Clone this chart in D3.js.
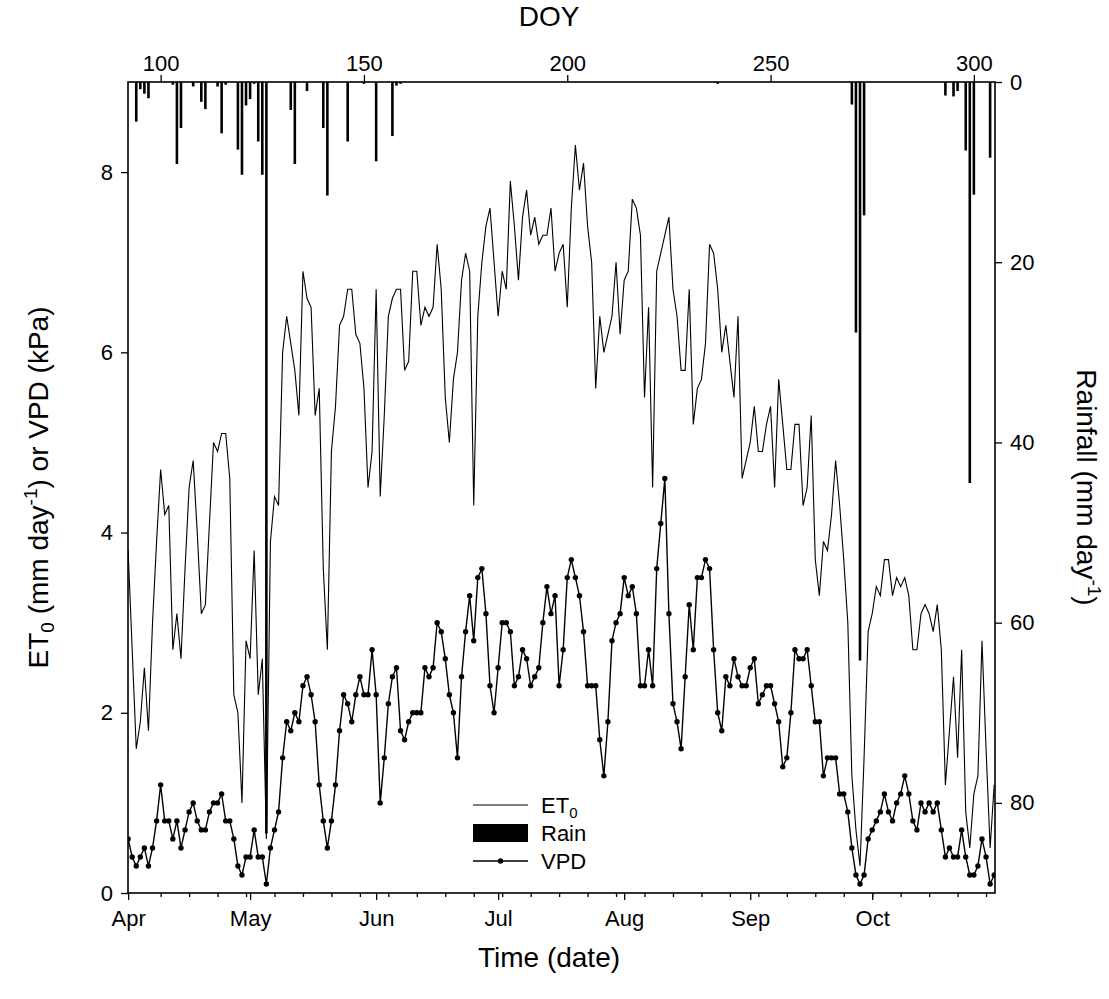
<!DOCTYPE html>
<html>
<head>
<meta charset="utf-8">
<script src="https://cdn.jsdelivr.net/npm/d3@7"></script>
<style>
  body { margin: 0; background: #fff; }
  text { font-family: Arial, "Liberation Sans", sans-serif; fill: #000; }
</style>
</head>
<body>
<div id="chart"></div>
<script>
// daily series, 1 April (DOY 92, leap year) to 31 October (DOY 305)
const firstDoy = 92;

const et0 = [
  3.8, 2.7, 1.6, 1.9, 2.5, 1.8, 3.0, 3.9, 4.7, 4.2,
  4.3, 2.7, 3.1, 2.6, 3.6, 4.5, 4.8, 4.0, 3.1, 3.2,
  4.1, 5.0, 4.9, 5.1, 5.1, 4.6, 2.2, 2.0, 1.0, 2.8,
  2.6, 3.8, 2.2, 2.6, 0.6, 3.9, 4.4, 4.3, 6.0, 6.4,
  6.1, 5.8, 5.3, 6.9, 6.6, 6.5, 5.3, 5.6, 3.6, 2.7,
  4.9, 5.4, 6.3, 6.4, 6.7, 6.7, 6.2, 6.1, 5.6, 4.5,
  4.9, 6.7, 4.4, 5.3, 6.4, 6.6, 6.7, 6.7, 5.8, 5.9,
  6.9, 6.9, 6.3, 6.5, 6.4, 6.5, 7.2, 6.7, 5.5, 5.0,
  5.7, 6.0, 6.8, 7.1, 6.9, 4.3, 6.4, 7.0, 7.4, 7.6,
  7.0, 6.4, 6.9, 6.7, 7.9, 7.4, 6.8, 7.5, 7.8, 7.3,
  7.5, 7.2, 7.3, 7.3, 7.6, 6.9, 7.1, 7.2, 6.5, 7.6,
  8.3, 7.8, 8.1, 7.4, 7.0, 5.6, 6.4, 6.0, 6.2, 6.4,
  7.0, 6.2, 6.8, 6.9, 7.7, 7.6, 7.3, 5.5, 6.5, 4.5,
  6.9, 7.1, 7.3, 7.5, 6.7, 6.4, 5.8, 5.8, 6.7, 5.2,
  5.6, 5.7, 6.1, 7.2, 7.1, 6.7, 6.0, 6.3, 5.9, 5.5,
  6.4, 4.6, 4.8, 5.0, 5.4, 4.9, 4.9, 5.2, 5.4, 4.5,
  5.7, 5.2, 4.7, 4.7, 5.2, 5.2, 4.3, 4.5, 5.3, 3.7,
  3.3, 3.9, 3.8, 4.2, 4.8, 4.3, 3.7, 3.0, 1.3, 0.7,
  0.3, 1.5, 2.9, 3.1, 3.4, 3.3, 3.7, 3.7, 3.3, 3.5,
  3.4, 3.5, 3.3, 2.7, 2.7, 3.1, 3.2, 3.1, 2.9, 3.2,
  2.7, 1.2, 1.8, 2.4, 1.5, 2.7, 0.9, 0.5, 1.1, 1.3,
  2.8, 1.6, 0.5, 1.2
];

const vpd = [
  0.6, 0.4, 0.3, 0.4, 0.5, 0.3, 0.5, 0.8, 1.2, 0.8,
  0.8, 0.6, 0.8, 0.5, 0.7, 0.9, 1.0, 0.8, 0.7, 0.7,
  0.9, 1.0, 1.0, 1.1, 0.8, 0.8, 0.6, 0.3, 0.2, 0.4,
  0.4, 0.7, 0.4, 0.4, 0.1, 0.5, 0.7, 0.9, 1.5, 1.9,
  1.8, 2.0, 1.9, 2.3, 2.4, 2.2, 1.9, 1.2, 0.8, 0.5,
  0.8, 1.2, 1.8, 2.2, 2.1, 1.9, 2.2, 2.4, 2.2, 2.2,
  2.7, 2.2, 1.0, 1.5, 2.1, 2.4, 2.5, 1.8, 1.7, 1.9,
  2.0, 2.0, 2.0, 2.5, 2.4, 2.5, 3.0, 2.9, 2.6, 2.2,
  2.0, 1.5, 2.4, 2.9, 3.3, 2.8, 3.5, 3.6, 3.1, 2.3,
  2.0, 2.5, 3.0, 3.0, 2.9, 2.3, 2.4, 2.7, 2.6, 2.3,
  2.4, 2.5, 3.0, 3.4, 3.1, 3.3, 2.3, 2.7, 3.5, 3.7,
  3.5, 3.3, 2.9, 2.3, 2.3, 2.3, 1.7, 1.3, 1.9, 2.8,
  3.0, 3.1, 3.5, 3.3, 3.4, 3.1, 2.3, 2.3, 2.7, 2.3,
  3.6, 4.1, 4.6, 3.1, 2.1, 1.9, 1.6, 2.4, 3.2, 2.7,
  3.5, 3.5, 3.7, 3.6, 2.7, 2.0, 1.8, 2.4, 2.3, 2.6,
  2.4, 2.3, 2.3, 2.5, 2.6, 2.1, 2.2, 2.3, 2.3, 2.1,
  1.9, 1.4, 1.5, 2.0, 2.7, 2.6, 2.6, 2.7, 2.3, 1.9,
  1.9, 1.3, 1.5, 1.5, 1.5, 1.1, 1.1, 0.9, 0.5, 0.2,
  0.1, 0.2, 0.6, 0.7, 0.8, 0.9, 1.1, 0.9, 0.8, 1.0,
  1.1, 1.3, 1.1, 0.8, 0.7, 1.0, 0.9, 1.0, 0.9, 1.0,
  0.7, 0.4, 0.5, 0.4, 0.4, 0.7, 0.4, 0.2, 0.2, 0.3,
  0.6, 0.4, 0.1, 0.2
];

// rain days only (DOY, mm)
const rainDoy = [94, 95, 96, 97, 103, 104, 105, 108, 110, 111, 114, 115, 116, 119, 120,
  121, 122, 123, 124, 125, 126, 132, 133, 136, 140, 141, 146, 150, 153, 157, 158, 159,
  237, 270, 271, 272, 273, 293, 295, 296, 298, 299, 300, 304];
const rainMm = [4.4, 0.8, 1.3, 1.8, 0.3, 9.1, 5.1, 0.5, 2.2, 3.0, 0.5, 5.7, 0.3, 7.5, 10.3,
  2.6, 1.9, 0.2, 6.6, 10.3, 83.4, 3.1, 9.1, 1.0, 5.1, 12.6, 6.6, 0.2, 8.8, 6.0, 0.4, 0.2,
  0.2, 2.5, 27.8, 64.2, 14.8, 1.5, 1.6, 1.0, 7.6, 44.5, 12.5, 8.4];

const monthDoy = [92, 122, 153, 183, 214, 245, 275];
const monthLabels = ["Apr", "May", "Jun", "Jul", "Aug", "Sep", "Oct"];
const doyTicks = [100, 150, 200, 250, 300];
const et0Ticks = [0, 2, 4, 6, 8];
const rainTicks = [0, 20, 40, 60, 80];

const W = 1109, H = 999;
const margin = { top: 82, right: 114, bottom: 106, left: 128 };
const width = W - margin.left - margin.right,
  height = H - margin.top - margin.bottom;

const days = et0.map((v, i) => firstDoy + i);

const x = d3.scaleLinear().domain([91.97, 305.2]).range([0, width]);
const y = d3.scaleLinear().domain([0, 9]).range([height, 0]);
const yRain = d3.scaleLinear().domain([0, 90]).range([0, height]);

const svg = d3.select("#chart").append("svg")
  .attr("width", W)
  .attr("height", H)
  .append("g")
  .attr("transform", "translate(" + margin.left + "," + margin.top + ")");

svg.append("clipPath").attr("id", "plot-clip")
  .append("rect").attr("width", width).attr("height", height);

const plot = svg.append("g").attr("clip-path", "url(#plot-clip)");

// rain bars hanging from the top
plot.selectAll(".rain")
  .data(rainDoy)
  .enter().append("rect")
  .attr("class", "rain")
  .attr("x", d => x(d) - 1.3)
  .attr("y", 0)
  .attr("width", 2.6)
  .attr("height", (d, i) => yRain(rainMm[i]))
  .attr("fill", "#000");

const line = d3.line()
  .x((d, i) => x(days[i]))
  .y(d => y(d));

plot.append("path")
  .datum(et0)
  .attr("d", line)
  .attr("fill", "none")
  .attr("stroke", "#000")
  .attr("stroke-width", 1.1);

plot.append("path")
  .datum(vpd)
  .attr("d", line)
  .attr("fill", "none")
  .attr("stroke", "#000")
  .attr("stroke-width", 1.4);

plot.selectAll(".dot")
  .data(vpd)
  .enter().append("circle")
  .attr("class", "dot")
  .attr("cx", (d, i) => x(days[i]))
  .attr("cy", d => y(d))
  .attr("r", 2.7)
  .attr("fill", "#000");

// axes
function styleAxis(g) {
  g.select(".domain").remove();
  g.selectAll(".tick line").attr("stroke", "#000").attr("stroke-width", 1.3);
  g.selectAll(".tick text").style("font-size", "22px");
}

svg.append("g")
  .attr("transform", "translate(0," + height + ")")
  .call(d3.axisBottom(x).tickValues(d3.range(100, 305, 7)).tickSize(4).tickFormat(""))
  .call(styleAxis);

svg.append("g")
  .attr("transform", "translate(0," + height + ")")
  .call(d3.axisBottom(x).tickValues(monthDoy).tickSize(7).tickPadding(10)
    .tickFormat((d, i) => monthLabels[i]))
  .call(styleAxis);

svg.append("g")
  .call(d3.axisTop(x).tickValues(doyTicks).tickSize(7).tickPadding(4))
  .call(styleAxis);

svg.append("g")
  .call(d3.axisLeft(y).tickValues(et0Ticks).tickSize(7).tickPadding(8))
  .call(styleAxis);

svg.append("g")
  .attr("transform", "translate(" + width + ",0)")
  .call(d3.axisRight(yRain).tickValues(rainTicks).tickSize(7).tickPadding(8))
  .call(styleAxis);

svg.append("rect")
  .attr("width", width)
  .attr("height", height)
  .attr("fill", "none")
  .attr("stroke", "#000")
  .attr("stroke-width", 1.6);

// titles
svg.append("text")
  .attr("x", 421).attr("y", 885)
  .attr("text-anchor", "middle")
  .style("font-size", "28px")
  .text("Time (date)");

svg.append("text")
  .attr("x", 421).attr("y", -56)
  .attr("text-anchor", "middle")
  .style("font-size", "28px")
  .text("DOY");

const leftTitle = svg.append("text")
  .attr("transform", "translate(-80," + (height / 2) + ") rotate(-90)")
  .attr("text-anchor", "middle")
  .style("font-size", "28px");
leftTitle.append("tspan").text("ET");
leftTitle.append("tspan").attr("dy", 6).style("font-size", "19px").text("0");
leftTitle.append("tspan").attr("dy", -6).text(" (mm day");
leftTitle.append("tspan").attr("dy", -11).style("font-size", "19px").text("-1");
leftTitle.append("tspan").attr("dy", 11).text(") or VPD (kPa)");

const rightTitle = svg.append("text")
  .attr("transform", "translate(" + (width + 82) + "," + (height / 2) + ") rotate(90)")
  .attr("text-anchor", "middle")
  .style("font-size", "28px");
rightTitle.append("tspan").text("Rainfall (mm day");
rightTitle.append("tspan").attr("dy", -11).style("font-size", "19px").text("-1");
rightTitle.append("tspan").attr("dy", 11).text(")");

// legend
const lg = svg.append("g").attr("transform", "translate(345,723)");
lg.append("line").attr("x1", 0).attr("x2", 55).attr("y1", 0).attr("y2", 0)
  .attr("stroke", "#000").attr("stroke-width", 1.1);
const lgEt = lg.append("text").attr("x", 68).attr("y", 8).style("font-size", "22px");
lgEt.append("tspan").text("ET");
lgEt.append("tspan").attr("dy", 5).style("font-size", "15px").text("0");

lg.append("rect").attr("x", 0).attr("y", 19).attr("width", 55).attr("height", 18)
  .attr("fill", "#000");
lg.append("text").attr("x", 68).attr("y", 36).style("font-size", "22px").text("Rain");

lg.append("line").attr("x1", 0).attr("x2", 55).attr("y1", 56).attr("y2", 56)
  .attr("stroke", "#000").attr("stroke-width", 1.4);
lg.append("circle").attr("cx", 27.5).attr("cy", 56).attr("r", 2.7).attr("fill", "#000");
lg.append("text").attr("x", 68).attr("y", 64).style("font-size", "22px").text("VPD");
</script>
</body>
</html>
